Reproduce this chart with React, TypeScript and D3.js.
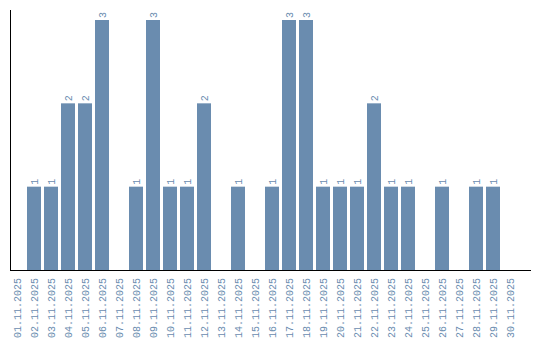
import React from "react";
import * as d3 from "d3";

const dates = [
  "01.11.2025","02.11.2025","03.11.2025","04.11.2025","05.11.2025","06.11.2025",
  "07.11.2025","08.11.2025","09.11.2025","10.11.2025","11.11.2025","12.11.2025",
  "13.11.2025","14.11.2025","15.11.2025","16.11.2025","17.11.2025","18.11.2025",
  "19.11.2025","20.11.2025","21.11.2025","22.11.2025","23.11.2025","24.11.2025",
  "25.11.2025","26.11.2025","27.11.2025","28.11.2025","29.11.2025","30.11.2025",
];
const counts = [0,1,1,2,2,3,0,1,3,1,1,2,0,1,0,1,3,3,1,1,1,2,1,1,0,1,0,1,1,0];

const W = 540, H = 340;
const baseY = 270, topY = 20;
const BAR = "#6a8caf";
const TXT = "#6a8caf";
const FONT = "'Liberation Mono', monospace";

export default function App() {
  const x = d3.scaleBand<string>().domain(dates).range([8.5, 518.5]).paddingInner(3 / 17).paddingOuter(1.5 / 17);
  const y = d3.scaleLinear().domain([0, 3]).range([baseY, topY]);
  return (
    <svg width={W} height={H} style={{ position: "absolute", left: 0, top: 0 }}>
      {dates.map((d, i) => {
        const v = counts[i];
        const cx = (x(d) as number) + x.bandwidth() / 2;
        return (
          <g key={d}>
            {v > 0 && (
              <rect x={x(d)} y={y(v)} width={x.bandwidth()} height={baseY - y(v)} fill={BAR} />
            )}
            {v > 0 && (
              <text transform={`translate(${cx + 3.5},${y(v) - 2}) rotate(-90)`} fontFamily={FONT} fontSize={10} fill={TXT}>
                {v}
              </text>
            )}
            <text transform={`translate(${cx + 3.5},${baseY + 8}) rotate(-90)`} textAnchor="end" fontFamily={FONT} fontSize={10} fill={TXT}>
              {d}
            </text>
          </g>
        );
      })}
      <line x1={10.5} x2={10.5} y1={10} y2={baseY} stroke="#000" strokeWidth={1} />
      <line x1={10} x2={531} y1={baseY + 0.5} y2={baseY + 0.5} stroke="#000" strokeWidth={1} />
    </svg>
  );
}
